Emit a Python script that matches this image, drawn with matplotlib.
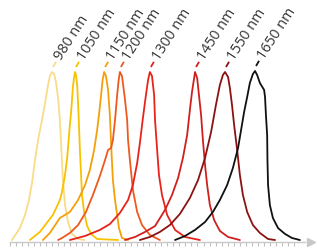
import matplotlib
matplotlib.use("Agg")
import matplotlib.pyplot as plt
import numpy as np

# ---- data (wavelength nm, normalised intensity) ----
labels = ["980 nm", "1050 nm", "1150 nm", "1200 nm", "1300 nm", "1450 nm", "1550 nm", "1650 nm"]
colors = ["#f8dc88", "#f7c200", "#f4a00c", "#ee5a1e", "#e8231a", "#d0201e", "#8c1212", "#111111"]

wl_980 = [848, 874, 891, 904, 914, 924, 934, 947, 957, 967, 973, 980, 987, 993, 1000, 1006, 1011, 1016, 1023, 1033, 1046, 1066, 1086]
in_980 = [0, .071, .149, .238, .339, .476, .595, .714, .815, .923, .976, 1, .988, .940, .845, .714, .536, .357, .208, .107, .036, .006, 0]

wl_1050 = [907, 940, 983, 1006, 1013, 1023, 1030, 1039, 1043, 1046, 1049, 1053, 1056,
           1059, 1063, 1066, 1069, 1072, 1076, 1079, 1086, 1096, 1109, 1129, 1198]
in_1050 = [0, .048, .149, .238, .286, .387, .488, .685, .762, .833, .911, .970, 1,
           .982, .923, .815, .685, .536, .387, .268, .167, .083, .036, .006, 0]

wl_1150 = [950, 973, 1006, 1039, 1066, 1089, 1105, 1119, 1129, 1135, 1142, 1147, 1152,
           1158, 1165, 1171, 1176, 1181, 1188, 1195, 1201, 1211, 1231]
in_1150 = [0, .042, .131, .167, .238, .327, .417, .536, .655, .744, .863, .952, 1,
           .976, .893, .744, .536, .357, .238, .149, .071, .012, 0]

wl_1200 = [1000, 1013, 1039, 1066, 1092, 1115, 1138, 1155, 1165, 1175, 1181, 1188, 1195, 1200, 1204,
           1211, 1214, 1221, 1228, 1231, 1237, 1247, 1261, 1277, 1303, 1336]
in_1200 = [0, .012, .042, .089, .167, .268, .381, .476, .536, .548, .595, .714, .863, .952, 1,
           .976, .935, .833, .714, .595, .476, .298, .167, .089, .030, 0]

wl_1300 = [1039, 1089, 1138, 1171, 1204, 1231, 1247, 1261, 1270, 1280, 1290, 1297, 1303,
           1310, 1317, 1320, 1327, 1333, 1343, 1360, 1386, 1419, 1468]
in_1300 = [0, .024, .060, .095, .161, .238, .327, .458, .577, .726, .863, .952, 1,
           .976, .863, .714, .536, .387, .268, .149, .060, .018, 0]

wl_1450 = [1221, 1254, 1287, 1320, 1353, 1376, 1396, 1412, 1426, 1435, 1442, 1449, 1452,
           1459, 1465, 1472, 1478, 1485, 1492, 1501, 1515, 1534, 1561, 1600]
in_1450 = [0, .018, .048, .083, .179, .268, .369, .488, .625, .774, .881, .964, 1,
           .964, .863, .744, .595, .446, .327, .208, .119, .054, .018, 0]

wl_1550 = [1270, 1303, 1336, 1369, 1402, 1435, 1462, 1485, 1505, 1521, 1534, 1544, 1551,
           1561, 1567, 1574, 1581, 1591, 1600, 1610, 1624, 1643, 1666, 1693, 1716]
in_1550 = [0, .018, .048, .089, .155, .250, .357, .488, .643, .804, .923, .982, 1,
           .970, .905, .804, .685, .536, .387, .268, .167, .089, .042, .006, 0]

wl_1650 = [1386, 1419, 1452, 1485, 1511, 1534, 1558, 1577, 1594, 1604, 1614, 1624, 1633, 1643, 1650,
           1657, 1666, 1680, 1683, 1686, 1690, 1691, 1693, 1699, 1709, 1726, 1749, 1772, 1798]
in_1650 = [0, .024, .060, .107, .167, .238, .327, .429, .548, .655, .762, .851, .935, .988, 1.006,
           .982, .935, .893, .851, .744, .625, .476, .327, .208, .131, .071, .036, .012, 0]

series = [(wl_980, in_980), (wl_1050, in_1050), (wl_1150, in_1150), (wl_1200, in_1200),
          (wl_1300, in_1300), (wl_1450, in_1450), (wl_1550, in_1550), (wl_1650, in_1650)]

# ---- figure ----
W, H, DPI = 317, 250, 100
fig = plt.figure(figsize=(W / DPI, H / DPI), dpi=DPI)
ax = fig.add_axes([0, 0, 1, 1])
ax.set_xlim(808.4, 1854.5)
ax.set_ylim(-0.0595, 1.4286)

for (x, y), c in zip(series, colors):
    ax.plot(x, y, color=c, lw=1.3, solid_joinstyle="round", solid_capstyle="round")

fig.canvas.draw()
inv = ax.transData.inverted()
px_per_pt = DPI / 72.0
ang = np.deg2rad(60)
for (x, y), c, lab in zip(series, colors, labels):
    i = int(np.argmax(y))
    pk = ax.transData.transform((x[i], y[i]))
    # dash in pixel offsets above the peak, along the label direction
    a = pk + np.array([1.0, 5.0])
    b = a + 6.0 * np.array([np.cos(ang), np.sin(ang)])
    d = inv.transform(np.vstack([a, b]))
    ax.plot(d[:, 0], d[:, 1], color=c, lw=1.3, solid_capstyle="butt")
    ax.annotate(lab, xy=(x[i], y[i]), xytext=(4.3, 9.6), textcoords="offset points",
                rotation=57, rotation_mode="anchor", ha="left", va="center",
                fontsize=10.3, family=["Open Sans", "DejaVu Sans"], color="#333333")

# axis
for s in ["top", "left", "right"]:
    ax.spines[s].set_visible(False)
ax.spines["bottom"].set_position(("data", -0.012))
ax.spines["bottom"].set_color("#c8c8c8")
ax.spines["bottom"].set_linewidth(1.0)
ax.spines["bottom"].set_bounds(840, 1815)
ax.set_xticks(range(840, 1800, 20))
ax.tick_params(axis="x", direction="out", length=3, width=0.8, color="#c0c0c0", labelbottom=False)
ax.set_yticks([])
ax.plot([1.0 - 0.02], [-0.012], marker=">", ms=6, color="#c8c8c8",
        transform=ax.get_yaxis_transform(), clip_on=False)

fig.savefig("out.png", dpi=DPI)
